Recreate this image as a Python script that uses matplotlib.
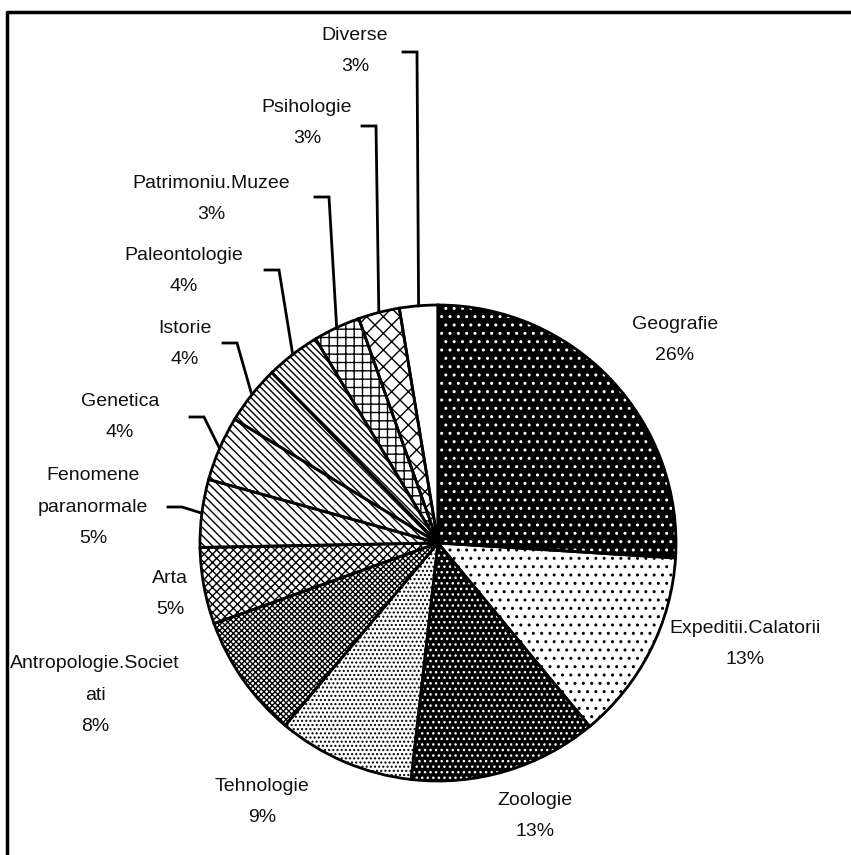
import numpy as np
import matplotlib.pyplot as plt

# categories and shares (%), clockwise from 12 o'clock
categories = ["Geografie", "Expeditii.Calatorii", "Zoologie", "Tehnologie",
              "Antropologie.Societ\nati", "Arta", "Fenomene\nparanormale",
              "Genetica", "Istorie", "Paleontologie", "Patrimoniu.Muzee",
              "Psihologie", "Diverse"]
values = [26.0, 13.0, 12.8, 9.3, 8.4, 5.2, 4.6, 4.4, 4.0, 3.7, 3.2, 2.8, 2.6]

# fill style per slice: (face, hatch colour, hatch)
styles = [("black", "white", ".."),
          ("white", "black", ".."),
          ("black", "white", "..."),
          ("white", "black", "...."),
          ("white", "black", "xxxxxx"),
          ("white", "black", "xxxx"),
          ("white", "black", "\\\\\\\\"),
          ("white", "black", "\\\\\\\\"),
          ("white", "black", "\\\\\\\\\\"),
          ("white", "black", "\\\\\\\\\\"),
          ("white", "black", "++"),
          ("white", "black", "xx"),
          ("white", "black", "")]

W, H = 851, 855
cx, cy, r = 438, 543, 238

# label block centres (pixels from top-left) and leader stub start (or None)
label_pos = [(675, 340), (745, 644), (535, 816), (262, 802), (95, 695),
             (170, 594), (93, 507), (120, 417), (185, 344), (184, 271),
             (211, 199), (307, 123), (355, 51)]
leaders = [None, None, None, None, None, None, (168, 507), (190, 417),
           (223, 343), (265, 270), (315, 197), (362, 126), (403, 52)]

plt.rcParams['font.family'] = ['Liberation Sans', 'DejaVu Sans']
plt.rcParams['hatch.linewidth'] = 1.0

fig = plt.figure(figsize=(W / 100, H / 100), dpi=100)
ax = fig.add_axes([0, 0, 1, 1])

wedges, _ = ax.pie(values, startangle=90, counterclock=False,
                   center=(cx, H - cy), radius=r,
                   wedgeprops=dict(linewidth=0))
for w, (fc, hc, hatch) in zip(wedges, styles):
    w.set_facecolor(fc)
    w.set_edgecolor(hc)
    w.set_hatch(hatch)

# outlines on top
ax.pie(values, startangle=90, counterclock=False, center=(cx, H - cy),
       radius=r, wedgeprops=dict(fill=False, edgecolor="black", linewidth=2))

# labels and leader lines
for w, name, v, (lx, ly), ld in zip(wedges, categories, values, label_pos, leaders):
    ax.text(lx, H - ly, f"{name}\n{round(v)}%", ha="center", va="center",
            fontsize=14, linespacing=2.15, color="#111111")
    if ld is not None:
        mid = np.deg2rad((w.theta1 + w.theta2) / 2)
        ex = cx + r * np.cos(mid)
        ey = (H - cy) + r * np.sin(mid)
        sx, sy = ld
        ax.plot([sx, sx + 14, ex], [H - sy, H - sy, ey], color="black",
                linewidth=2, solid_joinstyle="miter")

# chart frame (left and top edges visible)
ax.plot([7, 7, W + 5], [-5, H - 12, H - 12], color="black", linewidth=2.5)

ax.set_xlim(0, W)
ax.set_ylim(0, H)
ax.set_aspect("auto")
ax.axis("off")

fig.savefig("out.png", dpi=100)
